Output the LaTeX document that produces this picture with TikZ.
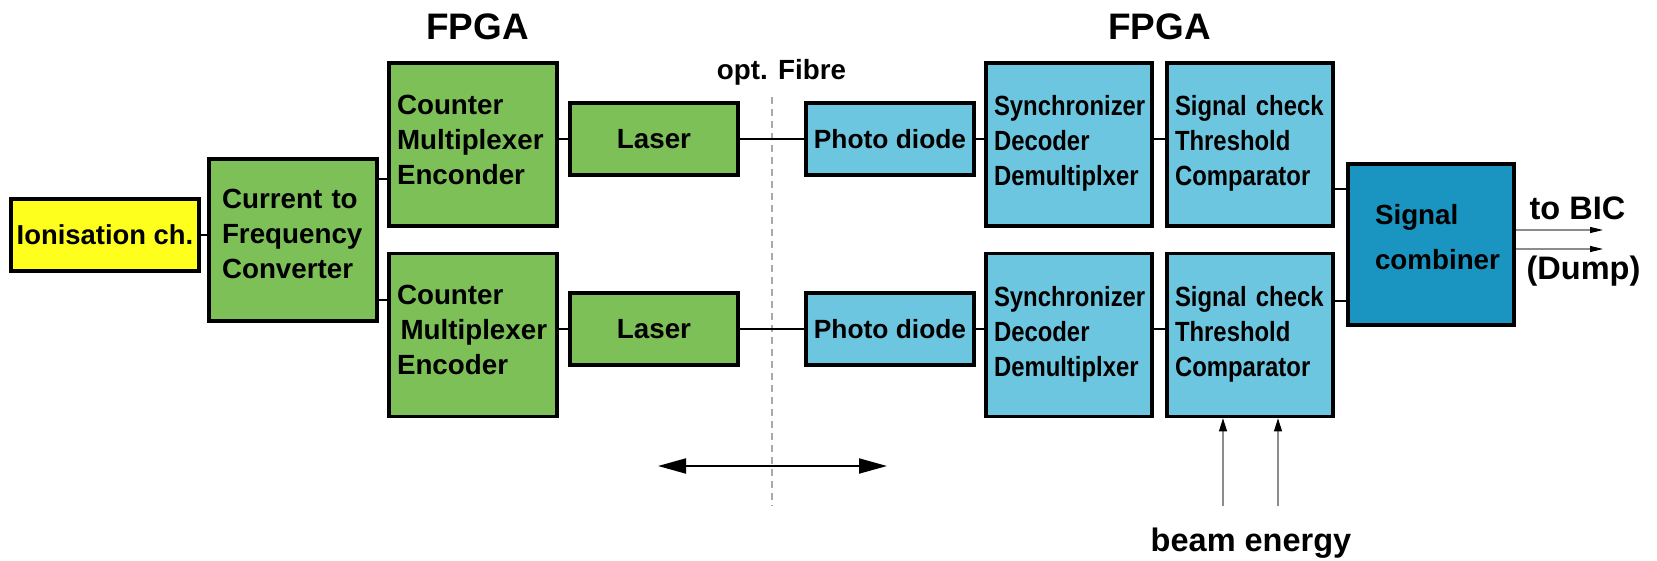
\documentclass[tikz,border=0pt]{standalone}
\usepackage{fontspec}
\setmainfont{Liberation Sans}
\newfontfamily\narrowfont[FakeStretch=0.86]{Liberation Sans}
\usetikzlibrary{arrows.meta,calc}
\definecolor{ionyellow}{RGB}{255,255,30}
\definecolor{fpgagreen}{RGB}{125,192,87}
\definecolor{rxblue}{RGB}{108,198,224}
\definecolor{combblue}{RGB}{26,149,193}
\definecolor{fibregray}{RGB}{170,170,170}
\definecolor{wiregray}{RGB}{140,140,140}
\hyphenpenalty=10000
\exhyphenpenalty=10000
\newcommand{\boxfont}{\fontsize{15.8}{19.92}\selectfont\bfseries}
\newcommand{\narrowboxfont}{\narrowfont\fontsize{15.8}{19.92}\selectfont\bfseries}
\newcommand{\lowpad}[1]{\rule[-#1]{0pt}{#1}}
\begin{document}
\begin{tikzpicture}[x=0.02cm,y=-0.02cm,
  box/.style={draw=black, line width=2.1pt, inner ysep=0pt, font=\boxfont},
  tall/.style={box, minimum height=3.26cm, align=left, inner xsep=0.16cm},
  greentall/.style={tall, fill=fpgagreen, minimum width=3.36cm, text width=3.04cm},
  bluetall/.style={tall, fill=rxblue, minimum width=3.32cm, text width=3.0cm,
    font=\narrowboxfont},
  short/.style={box, minimum height=1.44cm, minimum width=3.36cm, text depth=0pt, align=center},
  wire/.style={draw=black, line width=1.5pt},
  outwire/.style={draw=wiregray, line width=0.6pt, -{Triangle[length=0.26cm,width=0.12cm,color=black]}},
  beamwire/.style={draw=wiregray, line width=0.6pt, -{Triangle[length=0.26cm,width=0.16cm,color=black]}},
  dblarrow/.style={draw=black, line width=1.1pt, {Triangle[length=0.56cm,width=0.3cm]}-{Triangle[length=0.56cm,width=0.3cm]}},
  fibre/.style={draw=fibregray, line width=0.8pt, dash pattern=on 0.14cm off 0.1cm},
  label/.style={anchor=base, inner sep=0pt, font=\fontsize{18.5}{22}\selectfont\bfseries},
  title/.style={anchor=base, inner sep=0pt, font=\fontsize{21}{25}\selectfont\bfseries}
]
\fill[white] (0,0) rectangle (1657,561);
\useasboundingbox (0,0) rectangle (1657,561);

% optical fibre separation
\coordinate (ft) at (772,97);
\coordinate (fb) at (772,506);
\draw[fibre] (ft) -- (fb);

% boxes
\node[box, fill=ionyellow, minimum width=3.76cm, minimum height=1.44cm, text depth=0pt,
  font={\fontsize{15.6}{19.92}\selectfont\bfseries}] (ion) at (105,235) {Ionisation ch.};
\node[tall, fill=fpgagreen, minimum width=3.36cm, minimum height=3.24cm, text width=2.84cm,
  inner xsep=0.26cm] (cfc) at (293,240) {Current to\\Frequency\\Converter\lowpad{0.24cm}};
\node[greentall] (cnt1) at (473,144.5) {Counter\\Multiplexer\\Enconder\lowpad{0.2cm}};
\node[greentall] (cnt2) at (473,335) {Counter\\\hspace*{2pt}Multiplexer\\Encoder\lowpad{0.2cm}};
\node[short, fill=fpgagreen] (las1) at (654,139) {Laser};
\node[short, fill=fpgagreen] (las2) at (654,329) {Laser};
\node[short, fill=rxblue, font={\fontsize{15}{19.92}\selectfont\bfseries}] (pd1) at (890,139) {Photo diode};
\node[short, fill=rxblue, font={\fontsize{15}{19.92}\selectfont\bfseries}] (pd2) at (890,329) {Photo diode};
\node[bluetall] (syn1) at (1069,144.5) {Synchronizer\\Decoder\\Demultiplxer\lowpad{0.16cm}};
\node[bluetall] (syn2) at (1069,335) {Synchronizer\\Decoder\\Demultiplxer\lowpad{0.16cm}};
\node[bluetall] (sig1) at (1250,144.5) {Signal check\\Threshold\\Comparator\lowpad{0.16cm}};
\node[bluetall] (sig2) at (1250,335) {Signal check\\Threshold\\Comparator\lowpad{0.16cm}};
\node[box, fill=combblue, minimum width=3.32cm, minimum height=3.22cm,
  align=left, inner xsep=0.54cm, text width=2.24cm,
  font={\fontsize{15.8}{25.6}\selectfont\bfseries}] (comb) at (1431,244.5) {Signal\\combiner\lowpad{0.3cm}};

% connectors
\draw[wire] (ion.east) -- (ion.east -| cfc.west);
\path ([yshift=-0.69cm]cnt1.west) coordinate (c1in);
\path ([yshift=0.70cm]cnt2.west) coordinate (c2in);
\draw[wire] (c1in -| cfc.east) -- (c1in);
\draw[wire] (c2in -| cfc.east) -- (c2in);
\draw[wire] (las1.west -| cnt1.east) -- (las1.west);
\draw[wire] (las2.west -| cnt2.east) -- (las2.west);
\draw[wire] (las1.east) -- (pd1.west);
\draw[wire] (las2.east) -- (pd2.west);
\draw[wire] (pd1.east) -- (pd1.east -| syn1.west);
\draw[wire] (pd2.east) -- (pd2.east -| syn2.west);
\draw[wire] (pd1.east -| syn1.east) -- (pd1.east -| sig1.west);
\draw[wire] (pd2.east -| syn2.east) -- (pd2.east -| sig2.west);
\path ([yshift=1.11cm]comb.west) coordinate (k1);
\path ([yshift=-1.13cm]comb.west) coordinate (k2);
\draw[wire] (k1 -| sig1.east) -- (k1);
\draw[wire] (k2 -| sig2.east) -- (k2);

% outputs
\coordinate (bic) at (1603,230);
\coordinate (dump) at (1603,249);
\draw[outwire] (bic -| comb.east) -- (bic);
\draw[outwire] (dump -| comb.east) -- (dump);
\node[label] (bict) at (1577.5,219) {to BIC};
\node[label] (dumpt) at (1583.5,279) {(Dump)};

% beam energy inputs
\coordinate (be1) at (1223,506);
\coordinate (be2) at (1278,506);
\draw[beamwire] (be1) -- (be1 |- sig2.south);
\draw[beamwire] (be2) -- (be2 |- sig2.south);
\node[label] (beam) at (1251,551) {beam energy};

% distance arrow
\coordinate (dl) at (658,466);
\coordinate (dr) at (887,466);
\draw[dblarrow] (dl) -- (dr);

% titles
\node[title] (fpga1) at (477.5,39.5) {FPGA};
\node[title] (fpga2) at (1159.5,39.5) {FPGA};
\node[anchor=base, inner sep=0pt, font={\fontsize{15.8}{19}\selectfont\bfseries}] (fibrelabel) at (781.5,79) {opt. Fibre};
\end{tikzpicture}
\end{document}
